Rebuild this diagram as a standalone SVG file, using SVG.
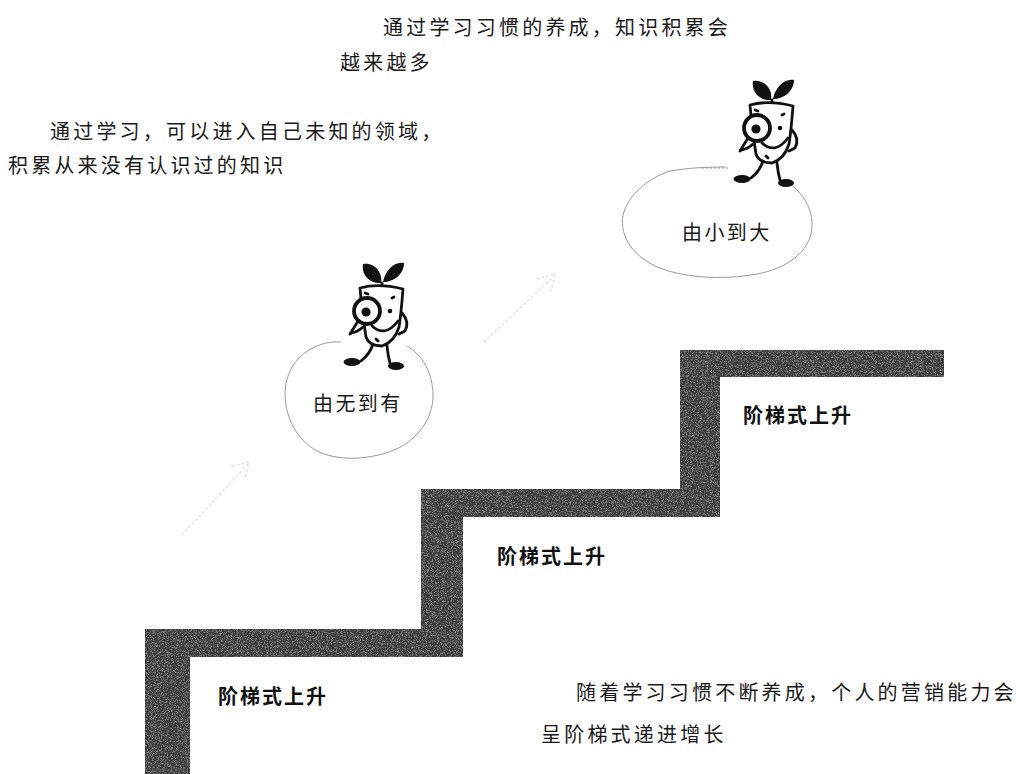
<svg xmlns="http://www.w3.org/2000/svg" xmlns:xlink="http://www.w3.org/1999/xlink" width="1016" height="774" viewBox="0 0 1016 774">
  <style>
    .txt { font-family: "Noto Sans CJK SC", "Noto Sans", sans-serif; font-size: 20px; fill: #1a1a1a; letter-spacing: 3.2px; }
    .lbl { font-family: "Noto Sans CJK SC", "Noto Sans", sans-serif; font-size: 20px; fill: #111; font-weight: bold; letter-spacing: 2px; }
    .blob { fill: none; stroke: #9a9a9a; stroke-width: 1; }
    .ink { fill: none; stroke: #111; stroke-width: 2.8; stroke-linecap: round; stroke-linejoin: round; }
    .solid { fill: #111; }
    .hint { fill: none; stroke: #e4e4e4; stroke-width: 1.4; stroke-dasharray: 2 3; stroke-linecap: round; }
  </style>
  <defs>
    <filter id="grain" x="0" y="0" width="100%" height="100%">
      <feTurbulence type="fractalNoise" baseFrequency="1.2" numOctaves="2" seed="7" result="n"/>
      <feColorMatrix in="n" type="matrix" values="0 0 0 0 0.42  0 0 0 0 0.42  0 0 0 0 0.42  2.0 0 0 0 -0.95" result="speck"/>
      <feComposite in="speck" in2="SourceGraphic" operator="in" result="s2"/>
      <feMerge><feMergeNode in="SourceGraphic"/><feMergeNode in="s2"/></feMerge>
    </filter>
    <!-- sprout mascot with magnifying glass -->
    <symbol id="sprout" overflow="visible">
      <path class="solid" d="M381,283 C371,284 361,276 363,264 C373,262 383,271 381,283 Z"/>
      <path class="solid" d="M383,282 C385,271 394,261 404,263 C404,274 394,282 383,282 Z"/>
      <path class="ink" d="M382,283 L382,288"/>
      <path d="M360,288 C374,284 391,286 403,289 C402,302 401,315 399,327 C396,337 391,343 382,346 C374,346 368,343 366,337 C363,320 361,303 360,288 Z" fill="#fff" stroke="#111" stroke-width="2.8" stroke-linejoin="round"/>
      <path class="ink" d="M365,293 L368,294" stroke-width="2"/>
      <path class="ink" d="M392,298 L394,297" stroke-width="2"/>
      <path class="ink" d="M372,326 Q385,338 398,321"/>
      <path class="ink" d="M376,339 L378,341" stroke-width="2"/>
      <path class="ink" d="M402,313 Q410,322 405,331 L399,334"/>
      <path class="ink" d="M358,321 L350,334" stroke-width="5.5"/>
      <path class="ink" d="M363,327 Q358,332 351,333"/>
      <circle cx="367" cy="311" r="13" fill="#fff" stroke="#111" stroke-width="3.8"/>
      <circle cx="366" cy="312" r="4.6" class="solid"/>
      <circle cx="390" cy="311" r="2.3" class="solid"/>
      <path class="ink" d="M373,344 Q370,354 361,361"/>
      <path class="ink" d="M387,346 Q388,356 390,363"/>
      <ellipse cx="352" cy="362" rx="8.5" ry="4" class="solid"/>
      <ellipse cx="396" cy="366" rx="8" ry="4" class="solid"/>
    </symbol>
  </defs>

  <!-- text blocks -->
  <g id="note-top">
    <text class="txt" x="383" y="35">通过学习习惯的养成，知识积累会</text>
    <text class="txt" x="340" y="70">越来越多</text>
  </g>
  <g id="note-left">
    <text class="txt" x="50" y="139">通过学习，可以进入自己未知的领域，</text>
    <text class="txt" x="8" y="173">积累从来没有认识过的知识</text>
  </g>
  <g id="note-bottom">
    <text class="txt" x="576" y="700">随着学习习惯不断养成，个人的营销能力会</text>
    <text class="txt" x="541" y="742">呈阶梯式递进增长</text>
  </g>

  <!-- staircase -->
  <g id="stairs">
    <path d="M145,774 L145,629 L421,629 L421,489 L680,489 L680,350 L944,350 L944,377 L720,377 L720,517 L463,517 L463,657 L190,657 L190,774 Z" fill="#3a3a3a" filter="url(#grain)"/>
    <text class="lbl" x="743" y="423">阶梯式上升</text>
    <text class="lbl" x="497" y="564">阶梯式上升</text>
    <text class="lbl" x="218" y="704">阶梯式上升</text>
  </g>

  <!-- first stage: nothing to something -->
  <g id="stage-1">
    <path class="blob" d="M341,342 C328,341 312,345 299,358 C287,370 283,388 286,405 C289,425 302,446 324,454 C345,461 372,459 394,450 C418,440 433,418 433,396 C433,372 422,355 407,346"/>
    <text class="txt" x="313" y="411" style="letter-spacing:2.4px">由无到有</text>
    <use href="#sprout" xlink:href="#sprout"/>
  </g>

  <!-- second stage: small to large -->
  <g id="stage-2">
    <path class="blob" d="M726,167 C705,167 688,168 670,171 C648,178 628,195 623,215 C619,238 635,258 660,268 C688,279 730,280 762,273 C792,266 812,248 812,225 C812,205 800,190 787,182"/>
    <path class="blob" d="M702,168 L728,168" stroke-dasharray="2 2" stroke="#bbb"/>
    <text class="txt" x="682" y="240" style="letter-spacing:2.4px">由小到大</text>
    <use href="#sprout" xlink:href="#sprout" transform="translate(390,-183)"/>
  </g>

  <!-- faint rising arrows -->
  <g id="connectors">
    <path class="hint" d="M182,535 L248,464"/>
    <path class="hint" d="M232,466 L249,462 L245,478"/>
    <path class="hint" d="M484,342 L553,277"/>
    <path class="hint" d="M537,279 L555,274 L551,291"/>
  </g>
</svg>
